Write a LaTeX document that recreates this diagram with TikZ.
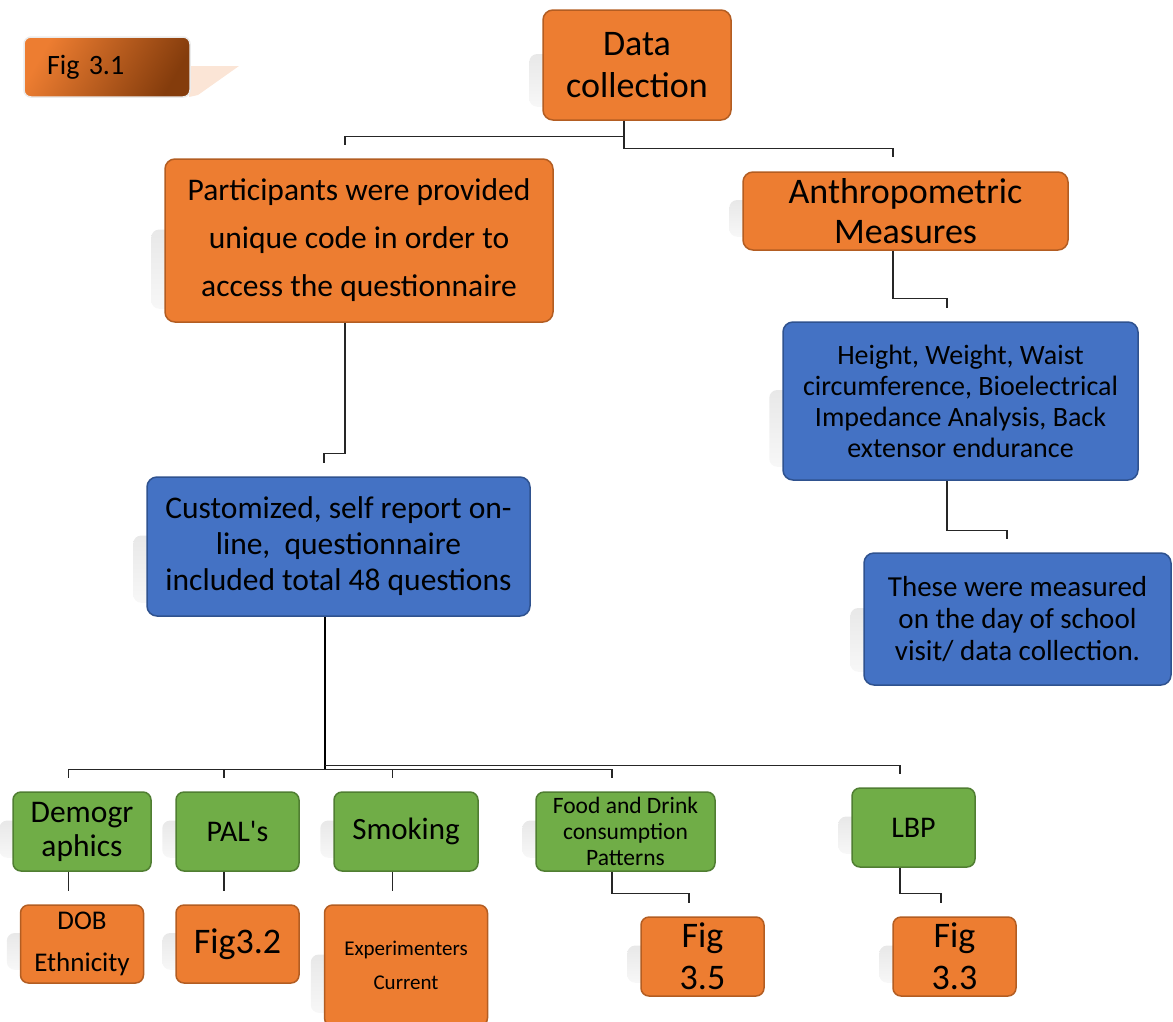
\documentclass[tikz,border=0pt]{standalone}
\usepackage{fontspec}
\setmainfont{Carlito}

\definecolor{boxorange}{HTML}{ED7D31}
\definecolor{orangeline}{HTML}{B35D22}
\definecolor{boxblue}{HTML}{4472C4}
\definecolor{blueline}{HTML}{2F528F}
\definecolor{boxgreen}{HTML}{70AD47}
\definecolor{greenline}{HTML}{507E32}
\definecolor{figbrown}{HTML}{843C0C}
\definecolor{peach}{HTML}{FBE5D6}

\pgfdeclarelayer{background}
\pgfsetlayers{background,main}

\begin{document}
\begin{tikzpicture}[x=1pt, y=-1pt]
\tikzstyle{box}=[rectangle, rounded corners=10pt, line width=1.5pt, inner sep=0pt, align=center]
\tikzstyle{orange box}=[box, fill=boxorange, draw=orangeline]
\tikzstyle{blue box}=[box, fill=boxblue, draw=blueline]
\tikzstyle{green box}=[box, fill=boxgreen, draw=greenline, rounded corners=8pt]
\tikzstyle{small orange}=[orange box, rounded corners=8pt]
\tikzstyle{link}=[draw=black!85, line width=1.1pt]
\tikzstyle{trunk}=[draw=black, line width=2pt]

\useasboundingbox (0,0) rectangle (1173,1021);

% Figure label
\fill[peach] (189,66) -- (239,66) -- (198,95) -- (189,97) -- cycle;
\node[rectangle, rounded corners=7pt, draw=black!8, line width=1.5pt, shading=axis,
    left color=boxorange, right color=figbrown, shading angle=60,
    minimum width=166pt, minimum height=60pt, text width=120pt, inner xsep=23pt, inner ysep=0pt,
    align=left, font=\fontsize{28}{34}\selectfont] (fig31) at (107,67) {Fig 3.1};

% Draw the top of the tree
\node[orange box, minimum width=188pt, minimum height=110pt, font=\fontsize{36}{42}\selectfont]
    (data) at (637,65) {Data\\collection};
\node[orange box, minimum width=388pt, minimum height=163pt, font=\fontsize{31.5}{48}\selectfont]
    (part) at (359,240.5) {Participants were provided\\unique code in order to\\access the questionnaire};
\node[orange box, minimum width=325pt, minimum height=78pt, font=\fontsize{36}{40}\selectfont]
    (anthro) at (905.5,211) {Anthropometric\\Measures};
\node[blue box, minimum width=355pt, minimum height=158pt, font=\fontsize{28}{31}\selectfont]
    (height) at (960.5,401) {Height, Weight, Waist\\circumference, Bioelectrical\\Impedance Analysis, Back\\extensor endurance};
\node[blue box, minimum width=307pt, minimum height=132pt, font=\fontsize{29}{32}\selectfont]
    (these) at (1017.5,619) {These were measured\\on the day of school\\visit/ data collection.};
\node[blue box, minimum width=383pt, minimum height=139pt, font=\fontsize{31.5}{36}\selectfont]
    (cust) at (338.5,546.5) {Customized, self report on-\\line,~ questionnaire\\included total 48 questions};

% Draw the questionnaire topics
\node[green box, minimum width=138pt, minimum height=79pt, font=\fontsize{31.5}{34}\selectfont]
    (demo) at (82,831.5) {Demogr\\aphics};
\node[green box, minimum width=123pt, minimum height=79pt, font=\fontsize{30}{34}\selectfont]
    (pal) at (237.5,831.5) {PAL\textquotesingle s};
\node[green box, minimum width=144pt, minimum height=79pt, font=\fontsize{31}{34}\selectfont]
    (smoke) at (406,831.5) {Smoking};
\node[green box, minimum width=179pt, minimum height=79pt, font=\fontsize{23.5}{26}\selectfont]
    (food) at (625.5,831.5) {Food and Drink\\consumption\\Patterns};
\node[green box, minimum width=123pt, minimum height=79pt, font=\fontsize{30}{34}\selectfont]
    (lbp) at (913.5,827.5) {LBP};

\node[small orange, minimum width=123pt, minimum height=78pt, font=\fontsize{27}{42}\selectfont]
    (dob) at (82,944) {DOB\\Ethnicity};
\node[small orange, minimum width=123pt, minimum height=78pt, font=\fontsize{36}{42}\selectfont]
    (fig32) at (237.5,944) {Fig3.2};
\node[small orange, minimum width=163pt, minimum height=121pt, font=\fontsize{21}{34}\selectfont]
    (exper) at (406,965.5) {Experimenters\\Current};
\node[small orange, minimum width=123pt, minimum height=79pt, font=\fontsize{36}{42}\selectfont]
    (fig35) at (702.5,956.5) {Fig\\3.5};
\node[small orange, minimum width=123pt, minimum height=79pt, font=\fontsize{36}{42}\selectfont]
    (fig33) at (954.5,956.5) {Fig\\3.3};

% Shadows on the left of the boxes
\begin{pgfonlayer}{background}
\foreach \n in {data,part,anthro,height,these,cust,demo,pal,smoke,food,lbp,dob,fig32,exper,fig35,fig33}
    \shade[top color=black!9, bottom color=black!3, rounded corners=8pt]
        ([xshift=-13pt,yshift=11pt]\n.west) rectangle ([yshift=14pt]\n.south);
\end{pgfonlayer}

% Connectors
\draw[link] ([xshift=-13pt]data.south) -- ++(0,16) -| ([xshift=-14pt,yshift=13pt]part.north);
\draw[link] ([xshift=-13pt]data.south) -- ++(0,28) -| ([xshift=-12.5pt,yshift=14pt]anthro.north);
\draw[link] ([xshift=-14pt]part.south) -- ++(0,131) -| ([xshift=-14.5pt,yshift=13pt]cust.north);
\draw[link] ([xshift=-12.5pt]anthro.south) -- ++(0,48) -| ([xshift=-13.5pt,yshift=13pt]height.north);
\draw[link] ([xshift=-13.5pt]height.south) -- ++(0,50) -| ([xshift=-10.5pt,yshift=13pt]these.north);

\coordinate (bus) at ([xshift=-13.5pt,yshift=-153pt]cust.south);
\draw[trunk] ([xshift=-13.5pt]cust.south) -- (bus);
\foreach \n in {demo,pal,smoke,food}
    \draw[link] (bus) -| ([xshift=-13.5pt,yshift=13pt]\n.north);
\draw[link] ([yshift=4pt]bus) -| ([xshift=-13.5pt,yshift=13pt]lbp.north);

\foreach \a/\b in {demo/dob,pal/fig32,smoke/exper}
    \draw[link] ([xshift=-13.5pt]\a.south) -- ([xshift=-13.5pt,yshift=13pt]\b.north);
\draw[link] ([xshift=-13.5pt]food.south) -- ++(0,22) -| ([xshift=-13.5pt,yshift=13pt]fig35.north);
\draw[link] ([xshift=-13.5pt]lbp.south) -- ++(0,26) -| ([xshift=-13.5pt,yshift=13pt]fig33.north);

\end{tikzpicture}
\end{document}
